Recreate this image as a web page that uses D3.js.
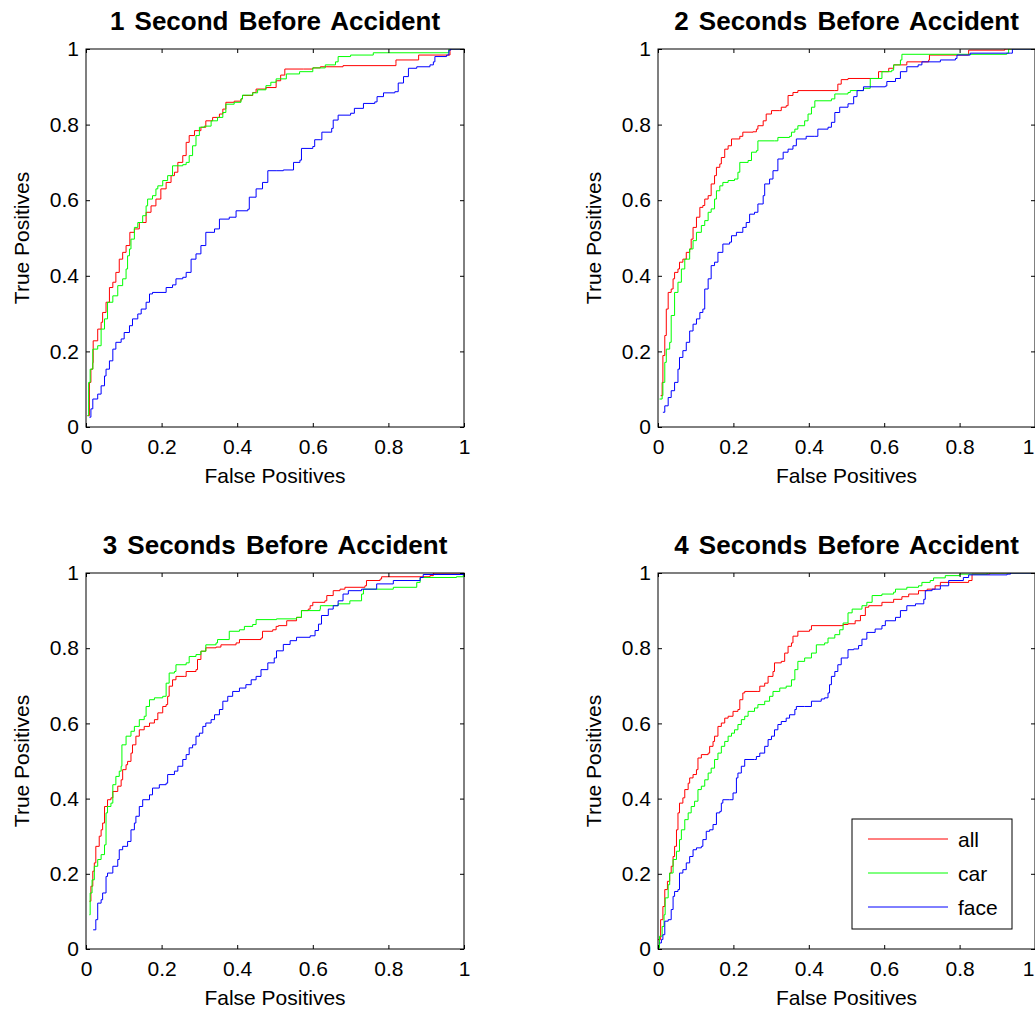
<!DOCTYPE html>
<html>
<head>
<meta charset="utf-8">
<script src="https://cdn.jsdelivr.net/npm/d3@7"></script>
<style>
body { margin: 0; background: #fff; }
</style>
</head>
<body>
<svg id="fig" width="1035" height="1009"></svg>
<script>
const titles = ['1 Second Before Accident', '2 Seconds Before Accident', '3 Seconds Before Accident', '4 Seconds Before Accident'];
const seriesNames = ['all', 'car', 'face'];
const ticks = [0, 0.2, 0.4, 0.6, 0.8, 1];
const xLabel = 'False Positives';
const yLabel = 'True Positives';

// [false positive rate, true positive rate]
const all1 = [[.004,.030],[.009,.118],[.013,.153],[.018,.170],[.019,.228],[.031,.259],[.040,.277],[.044,.303],[.053,.330],[.062,.369],[.071,.383],[.079,.409],[.088,.444],[.097,.462],[.106,.480],[.116,.515],[.128,.524],[.141,.541],[.159,.568],[.172,.585],[.185,.603],[.198,.630],[.212,.647],[.225,.665],[.234,.674],[.243,.700],[.256,.718],[.265,.753],[.273,.771],[.287,.784],[.304,.793],[.317,.810],[.335,.819],[.353,.828],[.362,.841],[.370,.859],[.392,.862],[.410,.868],[.414,.877],[.441,.885],[.450,.894],[.476,.898],[.503,.916],[.515,.931],[.526,.947],[.575,.947],[.600,.950],[.620,.953],[.680,.956],[.820,.962],[.820,.971],[.880,.971],[.880,.984],[.963,.993],[.963,1],[1,1]];
const car1 = [[.004,.030],[.007,.118],[.011,.153],[.018,.206],[.031,.215],[.040,.259],[.049,.286],[.057,.330],[.071,.347],[.084,.374],[.097,.392],[.106,.418],[.110,.453],[.115,.471],[.119,.497],[.128,.528],[.137,.541],[.150,.559],[.159,.585],[.163,.603],[.176,.612],[.185,.630],[.190,.638],[.203,.652],[.216,.665],[.229,.691],[.256,.694],[.265,.700],[.273,.718],[.282,.744],[.291,.771],[.300,.793],[.313,.796],[.331,.810],[.348,.819],[.362,.832],[.370,.854],[.392,.859],[.410,.868],[.414,.878],[.441,.884],[.454,.892],[.476,.903],[.489,.912],[.503,.921],[.530,.934],[.565,.940],[.600,.950],[.633,.958],[.660,.966],[.667,.980],[.700,.984],[.760,.990],[.955,.990],[.960,1],[1,1]];
const face1 = [[.009,.026],[.013,.048],[.018,.074],[.031,.087],[.040,.109],[.049,.135],[.053,.153],[.062,.175],[.071,.206],[.079,.224],[.093,.233],[.101,.250],[.115,.268],[.123,.286],[.137,.299],[.146,.312],[.159,.330],[.168,.352],[.176,.356],[.212,.369],[.229,.376],[.238,.392],[.256,.396],[.265,.409],[.278,.444],[.291,.458],[.304,.480],[.317,.515],[.340,.524],[.353,.550],[.379,.555],[.397,.572],[.428,.576],[.432,.608],[.450,.630],[.467,.647],[.481,.678],[.503,.678],[.522,.680],[.549,.700],[.566,.706],[.570,.737],[.600,.742],[.605,.760],[.620,.760],[.624,.780],[.650,.790],[.654,.812],[.667,.825],[.700,.830],[.710,.843],[.734,.856],[.764,.860],[.770,.874],[.787,.884],[.817,.887],[.826,.910],[.840,.927],[.853,.949],[.875,.953],[.910,.958],[.919,.966],[.923,.980],[.954,.984],[.960,.997],[.965,1],[1,1]];

const all2 = [[.007,.083],[.011,.118],[.013,.189],[.018,.242],[.022,.312],[.027,.356],[.035,.365],[.040,.392],[.044,.409],[.053,.418],[.057,.436],[.066,.444],[.075,.462],[.084,.471],[.088,.497],[.093,.528],[.102,.555],[.111,.581],[.119,.586],[.124,.603],[.133,.612],[.141,.643],[.150,.665],[.155,.687],[.164,.696],[.168,.713],[.177,.735],[.186,.744],[.195,.762],[.217,.769],[.225,.780],[.252,.781],[.261,.788],[.265,.797],[.279,.810],[.287,.828],[.301,.837],[.323,.837],[.327,.846],[.340,.850],[.345,.877],[.358,.885],[.371,.890],[.469,.890],[.477,.907],[.486,.919],[.504,.922],[.567,.922],[.585,.940],[.612,.949],[.625,.958],[.660,.966],[.718,.971],[.720,.984],[.793,.984],[.824,.997],[.920,1],[1,1]];
const car2 = [[.004,.074],[.011,.083],[.013,.118],[.018,.171],[.022,.206],[.031,.224],[.035,.295],[.044,.356],[.053,.383],[.062,.418],[.071,.444],[.084,.471],[.093,.493],[.102,.515],[.115,.533],[.124,.546],[.133,.568],[.141,.577],[.150,.603],[.155,.625],[.164,.638],[.172,.647],[.186,.652],[.203,.656],[.212,.674],[.217,.700],[.239,.705],[.248,.727],[.261,.731],[.265,.757],[.309,.757],[.318,.766],[.349,.769],[.354,.780],[.363,.788],[.371,.797],[.389,.810],[.398,.828],[.407,.846],[.416,.863],[.460,.868],[.469,.881],[.504,.885],[.510,.890],[.545,.896],[.563,.922],[.594,.940],[.620,.944],[.625,.958],[.643,.971],[.647,.986],[.925,.989],[.930,1],[1,1]];
const face2 = [[.013,.039],[.018,.056],[.027,.078],[.035,.096],[.044,.118],[.053,.153],[.057,.184],[.066,.202],[.075,.224],[.084,.254],[.093,.272],[.102,.286],[.111,.303],[.119,.312],[.124,.365],[.133,.392],[.141,.427],[.150,.436],[.159,.462],[.172,.484],[.190,.489],[.195,.506],[.208,.515],[.225,.528],[.234,.541],[.243,.563],[.256,.568],[.265,.590],[.279,.612],[.283,.643],[.296,.656],[.305,.678],[.318,.709],[.332,.727],[.345,.735],[.358,.744],[.367,.762],[.393,.769],[.416,.769],[.424,.788],[.451,.793],[.460,.806],[.469,.832],[.482,.846],[.504,.855],[.519,.874],[.528,.890],[.545,.900],[.603,.902],[.607,.914],[.630,.922],[.643,.940],[.660,.953],[.690,.958],[.700,.966],[.749,.971],[.789,.975],[.793,.984],[.828,.989],[.935,.989],[.940,1],[1,1]];

const all3 = [[.009,.127],[.013,.167],[.018,.207],[.022,.229],[.026,.273],[.035,.300],[.040,.317],[.044,.335],[.049,.379],[.057,.397],[.066,.402],[.071,.419],[.084,.433],[.093,.450],[.097,.477],[.106,.490],[.110,.499],[.119,.521],[.123,.543],[.132,.566],[.141,.583],[.154,.592],[.168,.601],[.181,.610],[.190,.628],[.203,.645],[.212,.650],[.216,.672],[.220,.699],[.229,.716],[.238,.725],[.260,.725],[.265,.738],[.291,.743],[.295,.770],[.304,.792],[.317,.801],[.344,.803],[.357,.809],[.397,.814],[.406,.823],[.463,.827],[.467,.845],[.494,.849],[.503,.858],[.509,.860],[.531,.873],[.557,.882],[.570,.900],[.588,.904],[.593,.913],[.600,.922],[.632,.926],[.637,.940],[.654,.953],[.672,.957],[.685,.962],[.738,.966],[.742,.980],[.778,.984],[.782,.990],[.910,.993],[.919,1],[1,1]];
const car3 = [[.009,.091],[.011,.149],[.016,.184],[.022,.220],[.031,.238],[.040,.251],[.049,.277],[.053,.362],[.057,.379],[.066,.388],[.071,.437],[.079,.459],[.088,.473],[.093,.486],[.095,.543],[.106,.566],[.119,.579],[.128,.592],[.141,.610],[.154,.619],[.159,.645],[.168,.663],[.181,.668],[.203,.672],[.212,.707],[.220,.734],[.234,.738],[.238,.756],[.265,.761],[.273,.778],[.291,.783],[.304,.792],[.317,.809],[.344,.814],[.348,.823],[.379,.845],[.406,.849],[.419,.858],[.441,.863],[.450,.876],[.503,.876],[.504,.878],[.557,.882],[.570,.900],[.619,.904],[.620,.913],[.667,.918],[.698,.926],[.729,.944],[.734,.957],[.813,.962],[.875,.975],[.884,.988],[.980,.990],[.998,.997],[1,1]];
const face3 = [[.019,.051],[.026,.078],[.031,.122],[.040,.131],[.044,.149],[.053,.193],[.057,.202],[.071,.220],[.084,.238],[.088,.264],[.097,.273],[.110,.286],[.119,.317],[.128,.335],[.132,.353],[.141,.379],[.150,.397],[.168,.410],[.176,.428],[.194,.437],[.212,.441],[.216,.464],[.234,.473],[.243,.486],[.256,.504],[.265,.517],[.273,.535],[.282,.543],[.291,.566],[.300,.574],[.309,.592],[.317,.601],[.331,.610],[.340,.623],[.353,.637],[.362,.659],[.375,.672],[.388,.685],[.406,.694],[.423,.703],[.437,.716],[.450,.725],[.463,.743],[.481,.761],[.498,.774],[.504,.793],[.522,.810],[.540,.820],[.557,.829],[.593,.833],[.606,.847],[.615,.864],[.623,.887],[.641,.904],[.654,.913],[.667,.926],[.680,.944],[.694,.953],[.729,.957],[.769,.971],[.813,.980],[.884,.988],[.892,.996],[1,1]];

const all4 = [[.000,.025],[.007,.078],[.013,.113],[.018,.158],[.025,.180],[.031,.202],[.035,.220],[.040,.246],[.044,.273],[.049,.317],[.053,.362],[.057,.388],[.066,.402],[.071,.424],[.080,.441],[.084,.455],[.093,.464],[.102,.477],[.106,.508],[.115,.517],[.133,.521],[.137,.539],[.146,.552],[.150,.566],[.159,.592],[.168,.601],[.177,.614],[.186,.619],[.199,.632],[.212,.637],[.217,.663],[.225,.681],[.230,.685],[.265,.685],[.270,.699],[.283,.707],[.292,.725],[.305,.738],[.309,.761],[.327,.765],[.336,.787],[.345,.805],[.354,.814],[.358,.832],[.371,.845],[.402,.849],[.407,.860],[.491,.863],[.504,.865],[.523,.873],[.537,.887],[.550,.909],[.559,.913],[.594,.922],[.625,.930],[.647,.937],[.665,.944],[.691,.953],[.714,.957],[.735,.966],[.749,.975],[.824,.980],[.833,.997],[.880,1],[1,1]];
const car4 = [[.000,.003],[.004,.034],[.011,.060],[.016,.091],[.019,.136],[.027,.171],[.031,.202],[.040,.238],[.049,.260],[.057,.291],[.062,.317],[.071,.344],[.080,.362],[.088,.379],[.097,.393],[.106,.424],[.115,.433],[.124,.450],[.133,.468],[.141,.481],[.150,.504],[.159,.521],[.168,.539],[.177,.552],[.186,.566],[.195,.574],[.203,.583],[.212,.597],[.221,.610],[.230,.619],[.239,.632],[.256,.641],[.265,.650],[.283,.659],[.296,.672],[.305,.685],[.323,.694],[.340,.699],[.354,.716],[.363,.743],[.371,.765],[.389,.774],[.407,.787],[.420,.809],[.442,.814],[.451,.827],[.469,.836],[.482,.849],[.491,.867],[.504,.894],[.515,.904],[.541,.913],[.554,.922],[.568,.940],[.594,.944],[.625,.949],[.630,.957],[.660,.962],[.691,.966],[.700,.975],[.722,.980],[.731,.987],[.762,.993],[.800,.997],[.873,1],[1,1]];
const face4 = [[.004,.016],[.009,.025],[.013,.038],[.018,.074],[.027,.078],[.035,.105],[.040,.140],[.044,.153],[.053,.158],[.057,.202],[.066,.211],[.075,.229],[.084,.246],[.093,.264],[.102,.269],[.115,.273],[.119,.291],[.128,.313],[.137,.317],[.146,.331],[.155,.362],[.164,.366],[.168,.388],[.172,.397],[.190,.397],[.199,.415],[.208,.455],[.212,.468],[.221,.486],[.230,.504],[.256,.504],[.261,.512],[.270,.521],[.283,.539],[.292,.557],[.301,.566],[.309,.583],[.318,.597],[.327,.605],[.340,.614],[.349,.623],[.363,.637],[.367,.645],[.389,.645],[.407,.659],[.433,.665],[.442,.668],[.451,.681],[.455,.703],[.460,.725],[.469,.738],[.477,.756],[.486,.774],[.504,.796],[.519,.798],[.532,.807],[.541,.824],[.554,.842],[.576,.851],[.594,.860],[.603,.873],[.630,.882],[.643,.900],[.660,.913],[.683,.918],[.705,.930],[.709,.953],[.727,.957],[.749,.966],[.771,.980],[.810,.988],[.824,.995],[.926,.997],[.935,1],[1,1]];

const panelSeries = [[all1, car1, face1], [all2, car2, face2], [all3, car3, face3], [all4, car4, face4]];

const colors = ['#ff0000', '#00ff00', '#0000ff'];
const font = '"Liberation Sans", Arial, Helvetica, sans-serif';
const pageWidth = 1035;

// subplot boxes in page pixels
const boxes = [
    { left: 86, top: 49, w: 378, h: 378 },
    { left: 658, top: 49, w: 377, h: 378 },
    { left: 86, top: 573, w: 378, h: 376 },
    { left: 658, top: 573, w: 377, h: 376 }
];

const svg = d3.select('#fig');
const fmt = d3.format('~g');

boxes.forEach((b, p) => {
    let g = svg.append('g').attr('transform', `translate(${b.left},${b.top})`);

    let x = d3.scaleLinear().domain([0, 1]).range([0, b.w]);
    let y = d3.scaleLinear().domain([0, 1]).range([b.h, 0]);

    g.append('clipPath').attr('id', 'clip' + p)
        .append('rect').attr('width', b.w).attr('height', b.h);

    let line = d3.line()
        .x(d => x(d[0]))
        .y(d => y(d[1]))
        .curve(d3.curveStepAfter);

    panelSeries[p].forEach((s, i) => {
        g.append('path')
            .datum(s)
            .attr('clip-path', `url(#clip${p})`)
            .attr('fill', 'none')
            .attr('stroke', colors[i])
            .attr('stroke-width', 1)
            .attr('d', line);
    });

    let styleAxis = a => {
        a.attr('font-size', 21).attr('font-family', font);
        a.select('.domain').remove();
        a.selectAll('.tick line').attr('stroke', '#000');
        a.selectAll('.tick text').attr('fill', '#000');
    };

    let bottomAxis = g.append('g').attr('transform', `translate(0,${b.h})`)
        .call(d3.axisBottom(x).tickValues(ticks).tickFormat(fmt).tickSizeInner(-4).tickSizeOuter(0).tickPadding(12))
        .call(styleAxis);

    // the last label of the right column would run past the page edge
    if (b.left + b.w >= pageWidth - 2) {
        bottomAxis.selectAll('.tick text')
            .filter(d => d === 1)
            .attr('text-anchor', 'end')
            .attr('dx', -1);
    }

    g.append('g')
        .call(d3.axisLeft(y).tickValues(ticks).tickFormat(fmt).tickSizeInner(-4).tickSizeOuter(0).tickPadding(7))
        .call(styleAxis);
    g.append('g')
        .call(d3.axisTop(x).tickValues(ticks).tickFormat('').tickSizeInner(-4).tickSizeOuter(0))
        .call(styleAxis);
    g.append('g').attr('transform', `translate(${b.w},0)`)
        .call(d3.axisRight(y).tickValues(ticks).tickFormat('').tickSizeInner(-4).tickSizeOuter(0))
        .call(styleAxis);

    g.append('rect')
        .attr('x', 0).attr('y', 0)
        .attr('width', b.w).attr('height', b.h)
        .attr('fill', 'none')
        .attr('stroke', '#000')
        .attr('stroke-width', 1);

    g.append('text')
        .attr('x', b.w / 2).attr('y', -19)
        .attr('text-anchor', 'middle')
        .attr('font-family', font)
        .attr('font-size', 26)
        .attr('font-weight', 'bold')
        .attr('word-spacing', 3)
        .text(titles[p]);

    g.append('text')
        .attr('x', b.w / 2).attr('y', b.h + 56)
        .attr('text-anchor', 'middle')
        .attr('font-family', font)
        .attr('font-size', 21)
        .text(xLabel);

    g.append('text')
        .attr('transform', `translate(-57,${b.h / 2}) rotate(-90)`)
        .attr('text-anchor', 'middle')
        .attr('font-family', font)
        .attr('font-size', 21)
        .text(yLabel);

    if (p === 3) {
        let lg = g.append('g').attr('transform', `translate(${b.w - 183},${b.h - 130})`);
        lg.append('rect')
            .attr('width', 160).attr('height', 110)
            .attr('fill', '#fff')
            .attr('stroke', '#000')
            .attr('stroke-width', 1);
        seriesNames.forEach((name, i) => {
            let ry = 20 + i * 34;
            lg.append('line')
                .attr('x1', 16).attr('x2', 96)
                .attr('y1', ry).attr('y2', ry)
                .attr('stroke', colors[i])
                .attr('stroke-width', 1);
            lg.append('text')
                .attr('x', 106).attr('y', ry)
                .attr('dy', '0.36em')
                .attr('font-family', font)
                .attr('font-size', 21)
                .text(name);
        });
    }
});
</script>
</body>
</html>
